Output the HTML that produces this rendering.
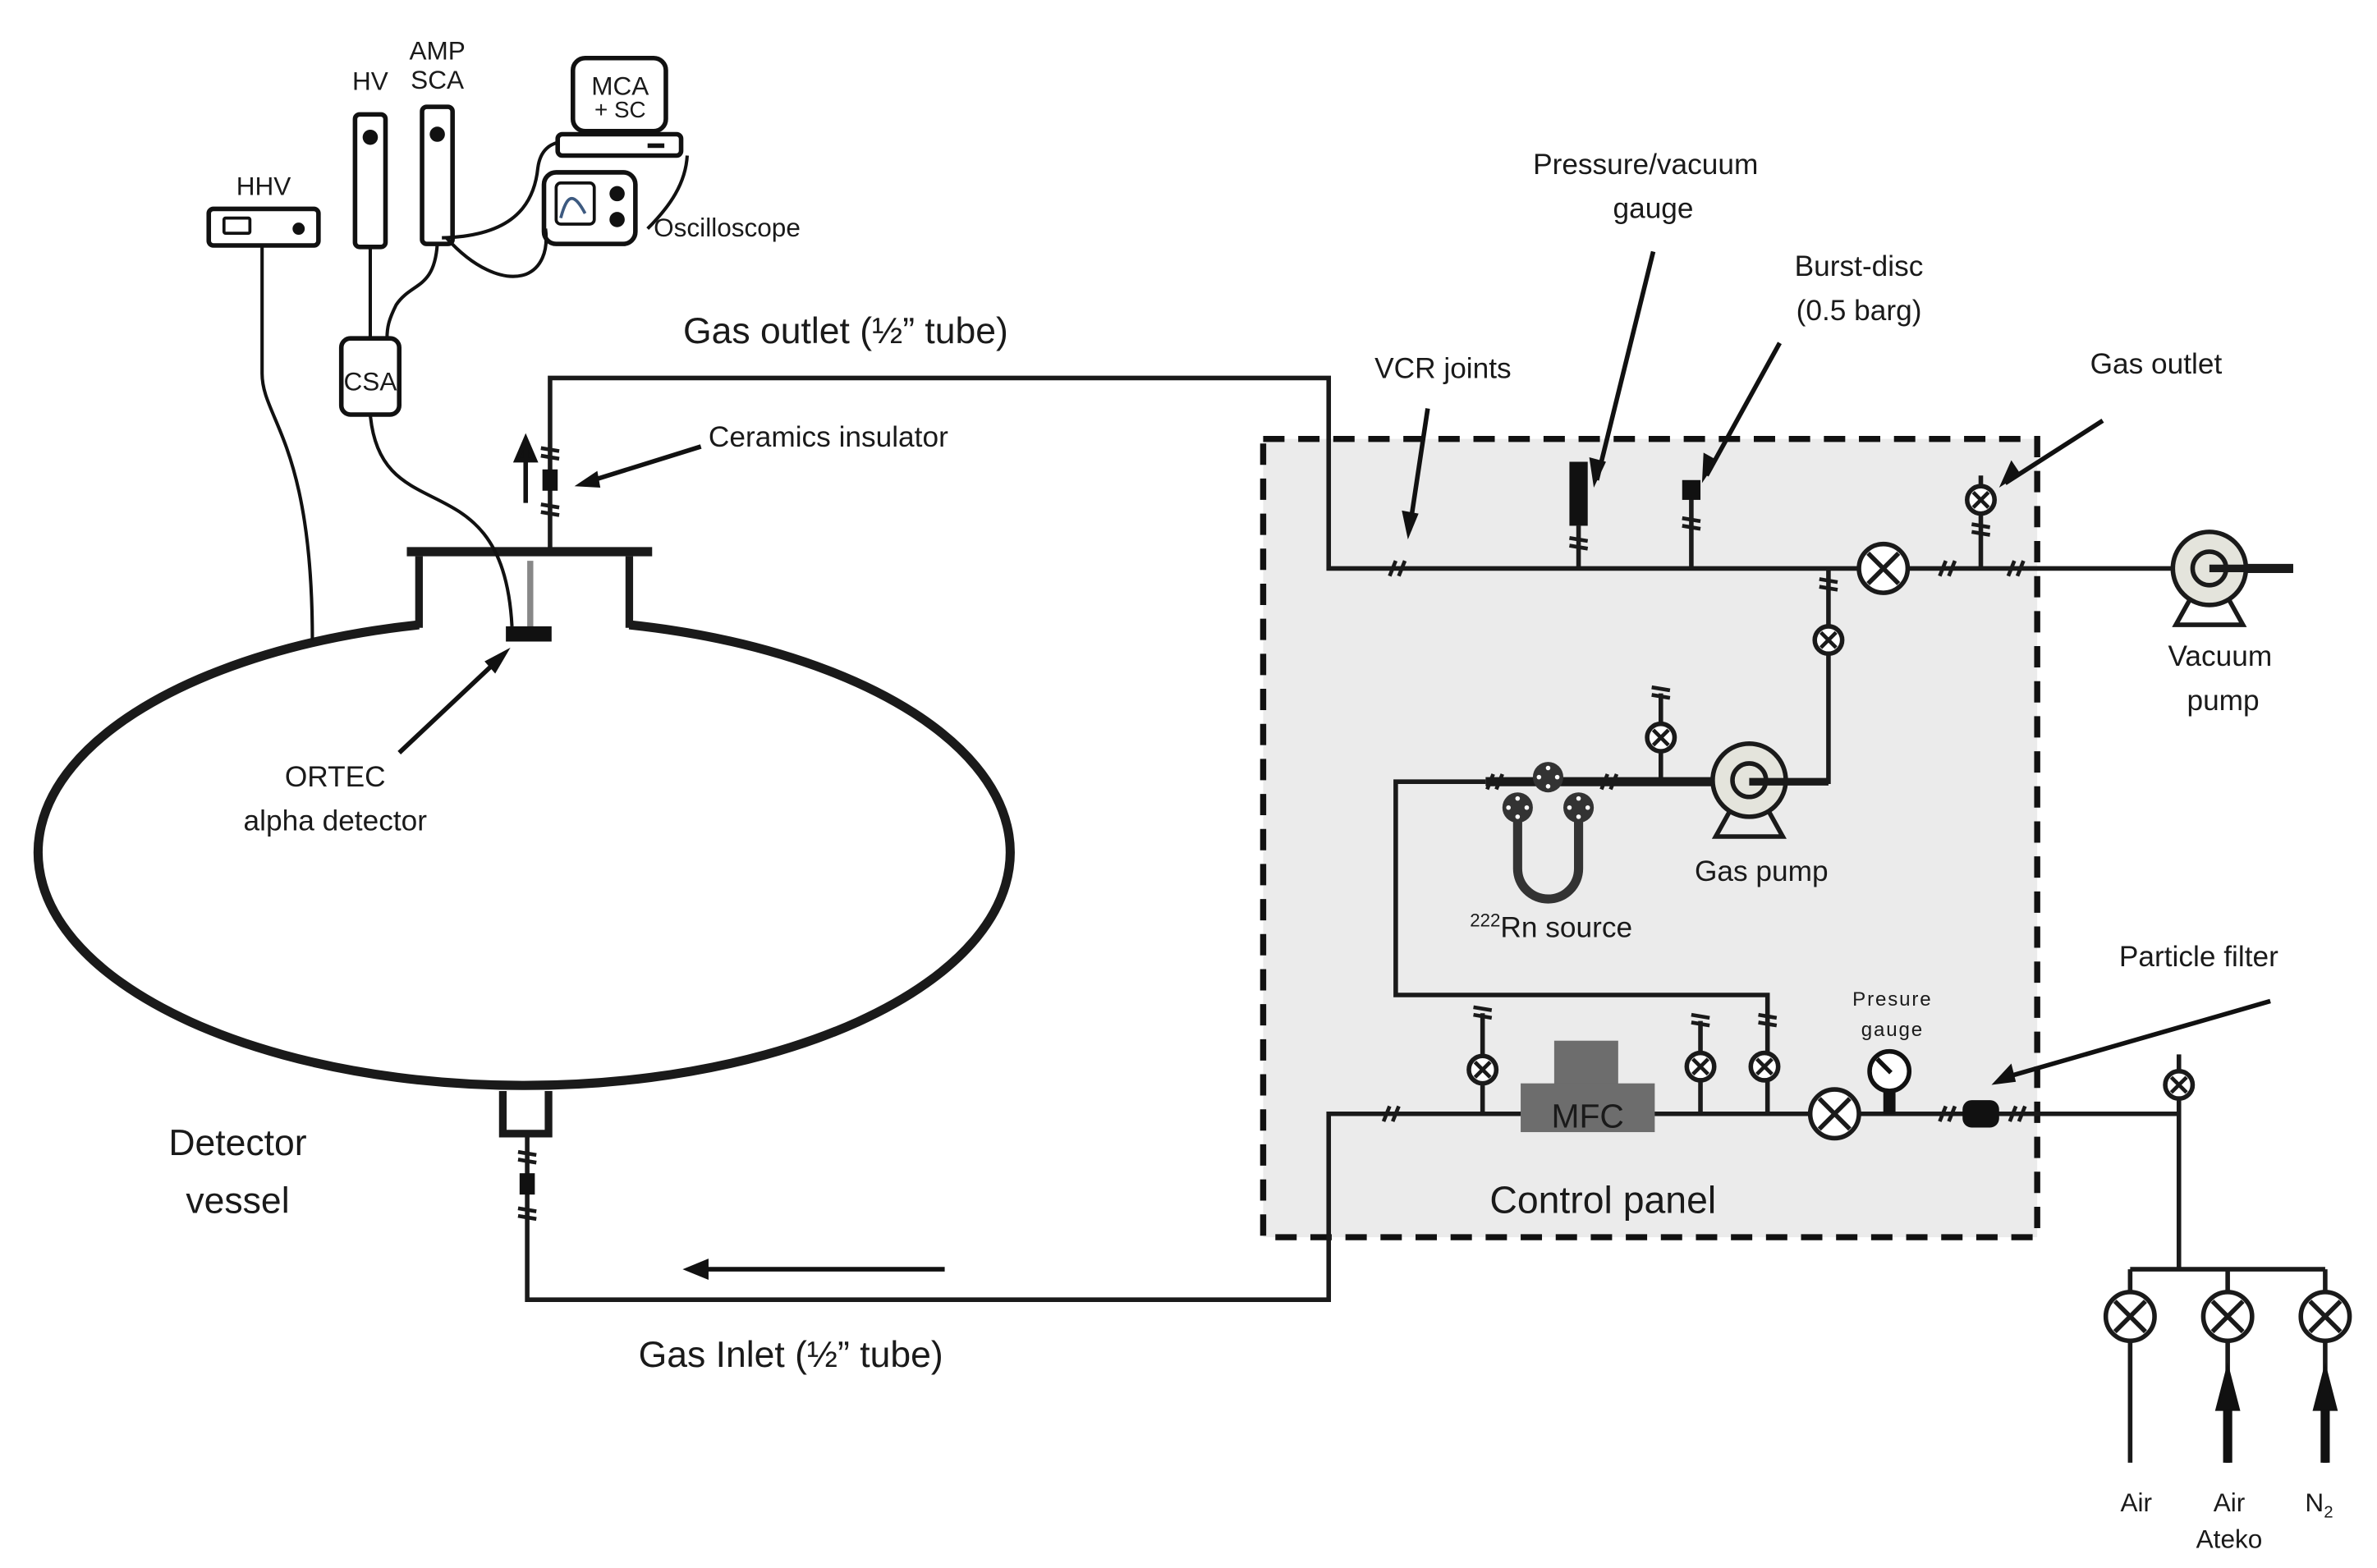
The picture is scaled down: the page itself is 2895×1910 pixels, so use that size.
<!DOCTYPE html>
<html><head><meta charset="utf-8"><style>
html,body{margin:0;padding:0;background:#fff}
svg{display:block}
text{font-family:"Liberation Sans",sans-serif;fill:#1a1a1a}
</style></head><body>
<svg width="2895" height="1910" viewBox="0 0 1560 1029" xmlns="http://www.w3.org/2000/svg">
<defs>
<g id="v"><circle r="9" fill="#fff" stroke="#1a1a1a" stroke-width="3"/><path d="M-5,-5L5,5M5,-5L-5,5" stroke="#1a1a1a" stroke-width="2.5"/></g>
<g id="V"><circle r="16" fill="#fff" stroke="#1a1a1a" stroke-width="3"/><path d="M-10,-10L10,10M10,-10L-10,10" stroke="#1a1a1a" stroke-width="3"/></g>
<g id="jh"><path d="M-5,5L-1,-5M1,5L5,-5" stroke="#1a1a1a" stroke-width="2.5"/></g>
<g id="jv"><path d="M-6,-4L6,-2M-6,1L6,3" stroke="#1a1a1a" stroke-width="2.5"/></g>
</defs>
<rect x="829" y="288" width="508" height="524" fill="#ebebeb" stroke="#111" stroke-width="4" stroke-dasharray="14,9"/>
<g fill="none" stroke="#1a1a1a" stroke-width="3">
<path d="M275,410 A319,153 0 1 0 413,410" stroke-width="6"/>
<path d="M275,412V365M413,412V365" stroke-width="5"/>
<path d="M267,362H428" stroke-width="6"/>
<path d="M330,716V744H360V716" stroke-width="5"/>
<path d="M361,362V248H872V373H1500"/>
<path d="M346,744V853H872V731H1430"/>
<path d="M1200,373V513H1148"/>
<path d="M975,513H916V653H1160V731"/>
<path d="M1430,692V833M1398,833H1526M1398,833V960M1462,833V960M1526,833V960"/>
<path d="M1036,373V345M1110,373V325M1300,373V312M1090,513V455M973,731V665M1116,731V670M1240,731V715"/>
</g>
<path d="M975,513H1150M1450,373H1505" stroke="#1a1a1a" stroke-width="6"/>
<rect x="346" y="368" width="4" height="44" fill="#888"/>
<rect x="332" y="411" width="30" height="10" fill="#111"/>
<rect x="356" y="308" width="10" height="14" fill="#111"/>
<rect x="341" y="770" width="10" height="14" fill="#111"/>
<path d="M345,330V292M339,302L345,288L351,302Z" stroke="#111" stroke-width="3" fill="#111"/>
<use href="#jv" x="361" y="298"/><use href="#jv" x="361" y="335"/><use href="#jv" x="346" y="760"/><use href="#jv" x="346" y="797"/>
<use href="#jh" x="917" y="373"/><use href="#jh" x="1278" y="373"/><use href="#jh" x="1323" y="373"/>
<use href="#jv" x="1036" y="357"/><use href="#jv" x="1110" y="344"/><use href="#jv" x="1300" y="348"/><use href="#jv" x="1200" y="384"/>
<use href="#jv" x="1090" y="455"/><use href="#jh" x="981" y="513"/><use href="#jh" x="1056" y="513"/>
<use href="#jv" x="973" y="665"/><use href="#jv" x="1116" y="670"/><use href="#jv" x="1160" y="670"/>
<use href="#jh" x="913" y="731"/><use href="#jh" x="1278" y="731"/><use href="#jh" x="1324" y="731"/>
<rect x="1030" y="303" width="12" height="42" fill="#111"/>
<rect x="1104" y="315" width="12" height="13" fill="#111"/>
<use href="#V" x="1236" y="373"/><use href="#v" x="1300" y="328"/><use href="#v" x="1200" y="420"/>
<use href="#v" x="1090" y="484"/>
<use href="#v" x="973" y="702"/><use href="#v" x="1116" y="700"/><use href="#v" x="1158" y="700"/>
<use href="#V" x="1204" y="731"/><use href="#v" x="1430" y="712"/>
<use href="#V" x="1398" y="864"/><use href="#V" x="1462" y="864"/><use href="#V" x="1526" y="864"/>
<path d="M1455,925L1462,898L1469,925Z M1519,925L1526,898L1533,925Z" fill="#111" stroke="#111" stroke-width="2"/>
<path d="M1462,925V960M1526,925V960" stroke="#111" stroke-width="6"/>
<g stroke="#1a1a1a" stroke-width="3">
<path d="M1438,392L1428,410H1472L1462,392" fill="none"/>
<circle cx="1450" cy="373" r="24" fill="#e4e4dc"/><circle cx="1450" cy="373" r="11" fill="none"/>
<path d="M1136,531L1126,549H1170L1160,531" fill="none"/>
<circle cx="1148" cy="512" r="24" fill="#e4e4dc"/><circle cx="1148" cy="512" r="11" fill="none"/>
</g>
<path d="M1450,373H1505M1148,513H1200" stroke="#1a1a1a" stroke-width="5"/>
<path d="M996,530V570A20,20 0 0 0 1036,570V530" fill="none" stroke="#333" stroke-width="6"/>
<g fill="#333"><circle cx="1016" cy="510" r="10"/><circle cx="996" cy="530" r="10"/><circle cx="1036" cy="530" r="10"/></g>
<g fill="#fff"><circle cx="1016" cy="504" r="1.5"/><circle cx="1016" cy="516" r="1.5"/><circle cx="1010" cy="510" r="1.5"/><circle cx="1022" cy="510" r="1.5"/>
<circle cx="996" cy="524" r="1.5"/><circle cx="996" cy="536" r="1.5"/><circle cx="990" cy="530" r="1.5"/><circle cx="1002" cy="530" r="1.5"/>
<circle cx="1036" cy="524" r="1.5"/><circle cx="1036" cy="536" r="1.5"/><circle cx="1030" cy="530" r="1.5"/><circle cx="1042" cy="530" r="1.5"/></g>
<rect x="1020" y="683" width="42" height="30" fill="#6d6d6d"/>
<rect x="998" y="711" width="88" height="32" fill="#6d6d6d"/>
<rect x="1236" y="715" width="8" height="16" fill="#111"/>
<circle cx="1240" cy="703" r="13" fill="#fff" stroke="#111" stroke-width="3"/>
<path d="M1232,695L1241,704" stroke="#111" stroke-width="3"/>
<rect x="1288" y="722" width="24" height="18" rx="6" fill="#111"/>
<g stroke="#111" stroke-width="3" fill="none">
<path d="M620,833H455"/><path d="M1085,165L1048,315"/><path d="M1168,225L1120,312"/>
<path d="M1380,276L1316,317"/><path d="M1490,657L1313,708"/><path d="M937,268L925,348"/>
<path d="M460,293L383,317"/><path d="M262,494L330,430"/>
</g>
<g fill="#111">
<path d="M448,833L465,826L465,840Z"/><path d="M1046,320L1043,300L1054,303Z"/><path d="M1117,317L1118,297L1127,302Z"/>
<path d="M1312,320L1320,302L1326,311Z"/><path d="M1307,712L1320,698L1323,710Z"/><path d="M924,354L920,335L931,337Z"/>
<path d="M377,319L392,309L394,320Z"/><path d="M335,425L325,442L318,434Z"/>
</g>
<g fill="#fff" stroke="#111" stroke-width="3">
<rect x="137" y="137" width="72" height="24" rx="3"/><rect x="147" y="143" width="17" height="10" rx="1" stroke-width="2"/>
<rect x="233" y="75" width="20" height="87" rx="3"/><rect x="277" y="70" width="20" height="90" rx="3"/>
<rect x="376" y="38" width="61" height="48" rx="8"/><rect x="366" y="88" width="81" height="14" rx="3"/>
<rect x="357" y="113" width="60" height="47" rx="8"/><rect x="365" y="120" width="25" height="27" rx="3" stroke-width="2"/>
<rect x="224" y="222" width="38" height="50" rx="6"/>
</g>
<g fill="#111"><circle cx="196" cy="150" r="4"/><circle cx="243" cy="90" r="5"/><circle cx="287" cy="88" r="5"/>
<circle cx="405" cy="127" r="5"/><circle cx="405" cy="144" r="5"/><rect x="425" y="94" width="11" height="3"/></g>
<path d="M368,143C372,128 376,125 384,140" stroke="#3d5a80" stroke-width="2" fill="none"/>
<g fill="none" stroke="#111" stroke-width="2.2">
<path d="M172,161V245C172,275 205,290 205,420"/>
<path d="M243,162V222"/><path d="M287,160C285,190 270,185 260,200C255,210 254,215 254,222"/>
<path d="M243,272C250,350 330,300 336,411"/>
<path d="M290,156C330,155 350,140 353,110C355,95 365,94 367,93"/>
<path d="M293,156C310,175 330,185 345,180C355,176 360,165 358,150"/>
<path d="M451,102C450,120 440,135 425,150"/>
</g>
<g font-size="17">
<text x="173" y="128" text-anchor="middle">HHV</text>
<text x="243" y="59" text-anchor="middle">HV</text>
<text x="287" y="39" text-anchor="middle">AMP</text><text x="287" y="58" text-anchor="middle">SCA</text>
<text x="407" y="62" text-anchor="middle">MCA</text><text x="407" y="77" text-anchor="middle" font-size="15">+ SC</text>
<text x="243" y="256" text-anchor="middle">CSA</text>
<text x="429" y="155">Oscilloscope</text>
</g>
<g font-size="19">
<text x="465" y="293">Ceramics insulator</text>
<text x="220" y="516" text-anchor="middle">ORTEC</text><text x="220" y="545" text-anchor="middle">alpha detector</text>
<text x="1080" y="114" text-anchor="middle">Pressure/vacuum</text><text x="1085" y="143" text-anchor="middle">gauge</text>
<text x="1220" y="181" text-anchor="middle">Burst-disc</text><text x="1220" y="210" text-anchor="middle">(0.5 barg)</text>
<text x="947" y="248" text-anchor="middle">VCR joints</text>
<text x="1415" y="245" text-anchor="middle">Gas outlet</text>
<text x="1457" y="437" text-anchor="middle">Vacuum</text><text x="1459" y="466" text-anchor="middle">pump</text>
<text x="1156" y="578" text-anchor="middle">Gas pump</text>
<text x="1018" y="615" text-anchor="middle"><tspan font-size="12" dy="-7">222</tspan><tspan dy="7">Rn source</tspan></text>
<text x="1443" y="634" text-anchor="middle">Particle filter</text>
<text x="1042" y="740" text-anchor="middle" font-size="22" fill="#111">MFC</text>
<text x="1402" y="992" text-anchor="middle" font-size="17">Air</text>
<text x="1463" y="992" text-anchor="middle" font-size="17">Air</text><text x="1463" y="1016" text-anchor="middle" font-size="17">Ateko</text>
<text x="1522" y="992" text-anchor="middle" font-size="17">N<tspan font-size="11" dy="4">2</tspan></text>
</g>
<text x="1242" y="660" text-anchor="middle" font-size="13" letter-spacing="1">Presure</text>
<text x="1242" y="680" text-anchor="middle" font-size="13" letter-spacing="1">gauge</text>
<g font-size="24">
<text x="555" y="225" text-anchor="middle">Gas outlet (½” tube)</text>
<text x="519" y="897" text-anchor="middle">Gas Inlet (½” tube)</text>
<text x="156" y="758" text-anchor="middle">Detector</text><text x="156" y="796" text-anchor="middle">vessel</text>
<text x="1052" y="796" text-anchor="middle" font-size="25">Control panel</text>
</g>
</svg>
</body></html>
